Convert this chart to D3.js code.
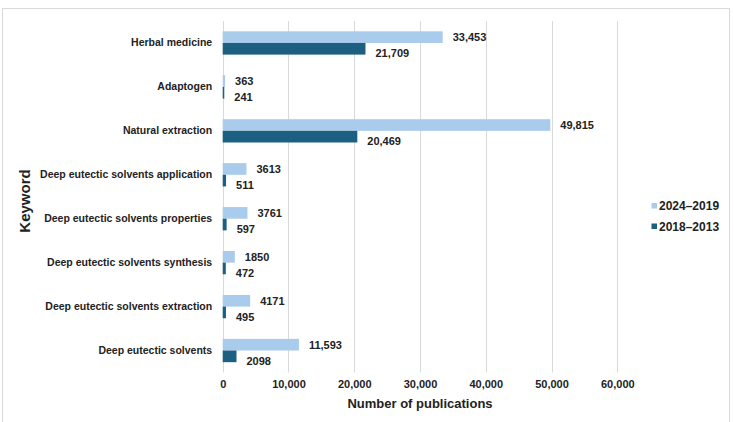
<!DOCTYPE html>
<html>
<head>
<meta charset="utf-8">
<script src="https://cdn.jsdelivr.net/npm/d3@7"></script>
<style>
  html, body { margin: 0; padding: 0; background: #fff; }
  svg { display: block; font-family: "Liberation Sans", Arial, sans-serif; }
</style>
</head>
<body>
<svg id="chart" width="734" height="422"></svg>
<script>
const categories = [
  "Herbal medicine",
  "Adaptogen",
  "Natural extraction",
  "Deep eutectic solvents application",
  "Deep eutectic solvents properties",
  "Deep eutectic solvents synthesis",
  "Deep eutectic solvents extraction",
  "Deep eutectic solvents"
];
const seriesNames = ["2024–2019", "2018–2013"];
const values2024_2019 = [33453, 363, 49815, 3613, 3761, 1850, 4171, 11593];
const values2018_2013 = [21709, 241, 20469, 511, 597, 472, 495, 2098];
const labels2024_2019 = ["33,453", "363", "49,815", "3613", "3761", "1850", "4171", "11,593"];
const labels2018_2013 = ["21,709", "241", "20,469", "511", "597", "472", "495", "2098"];
const xTicks = [0, 10000, 20000, 30000, 40000, 50000, 60000];
const colors = ["#a9cbec", "#1c5f80"];

const svg = d3.select("#chart");

// outer frame
svg.append("rect")
  .attr("x", 2.5).attr("y", 8.5)
  .attr("width", 727).attr("height", 420)
  .attr("fill", "none").attr("stroke", "#d9d9d9").attr("stroke-width", 1);

const x = d3.scaleLinear().domain([0, 60000]).range([222.7, 617.3]);
const y = d3.scaleBand().domain(categories).range([21, 372.5])
  .paddingInner(0.47).paddingOuter(0.235);
const ySub = d3.scaleBand().domain(seriesNames).range([0, y.bandwidth()]);

// gridlines
svg.append("g").selectAll("line").data(xTicks).join("line")
  .attr("x1", d => Math.round(x(d)) + 0.5).attr("x2", d => Math.round(x(d)) + 0.5)
  .attr("y1", 21).attr("y2", 372.5)
  .attr("stroke", "#d9d9d9").attr("stroke-width", 1);

// x axis tick labels
const xAxis = d3.axisBottom(x).tickValues(xTicks).tickSize(0).tickPadding(0)
  .tickFormat(d3.format(","));
const gx = svg.append("g").attr("transform", "translate(0,380)").call(xAxis);
gx.select(".domain").remove();
gx.selectAll("text")
  .attr("font-size", 11).attr("font-weight", "bold").attr("fill", "#222")
  .attr("dy", "0.72em").attr("y", 0)
  .attr("font-family", "Liberation Sans, Arial, sans-serif");

// y axis labels
const yAxis = d3.axisLeft(y).tickSize(0).tickPadding(10.5);
const gy = svg.append("g").attr("transform", "translate(222.7,0)").call(yAxis);
gy.select(".domain").remove();
gy.selectAll("text")
  .attr("font-size", 10.5).attr("font-weight", "bold").attr("fill", "#222")
  .attr("font-family", "Liberation Sans, Arial, sans-serif");

// bars
const series = [
  { name: seriesNames[0], values: values2024_2019, labels: labels2024_2019, color: colors[0], dy: 0 },
  { name: seriesNames[1], values: values2018_2013, labels: labels2018_2013, color: colors[1], dy: 4.5 }
];

series.forEach(s => {
  const g = svg.append("g");
  g.selectAll("rect").data(categories).join("rect")
    .attr("x", x(0))
    .attr("y", (c) => y(c) + ySub(s.name))
    .attr("width", (c, i) => x(s.values[i]) - x(0))
    .attr("height", ySub.bandwidth())
    .attr("fill", s.color);
  g.selectAll("text").data(categories).join("text")
    .attr("x", (c, i) => x(s.values[i]) + 10)
    .attr("y", (c) => y(c) + ySub(s.name) + ySub.bandwidth() / 2 + s.dy)
    .attr("dy", "0.35em")
    .attr("font-size", 11).attr("font-weight", "bold").attr("fill", "#222")
    .text((c, i) => s.labels[i]);
});

// axis titles
svg.append("text")
  .attr("x", 420).attr("y", 403).attr("dy", "0.35em")
  .attr("text-anchor", "middle")
  .attr("font-size", 13).attr("font-weight", "bold").attr("fill", "#222")
  .text("Number of publications");

svg.append("text")
  .attr("transform", "translate(25,201) rotate(-90)")
  .attr("text-anchor", "middle").attr("dy", "0.35em")
  .attr("font-size", 15).attr("font-weight", "bold").attr("fill", "#222")
  .text("Keyword");

// legend
const legend = svg.append("g");
seriesNames.forEach((n, i) => {
  const ly = 206 + i * 20.5;
  legend.append("rect")
    .attr("x", 651.5).attr("y", ly - 3).attr("width", 5.5).attr("height", 5.5)
    .attr("fill", colors[i]);
  legend.append("text")
    .attr("x", 659).attr("y", ly).attr("dy", "0.35em")
    .attr("font-size", 12).attr("font-weight", "bold").attr("fill", "#222")
    .text(n);
});
</script>
</body>
</html>
